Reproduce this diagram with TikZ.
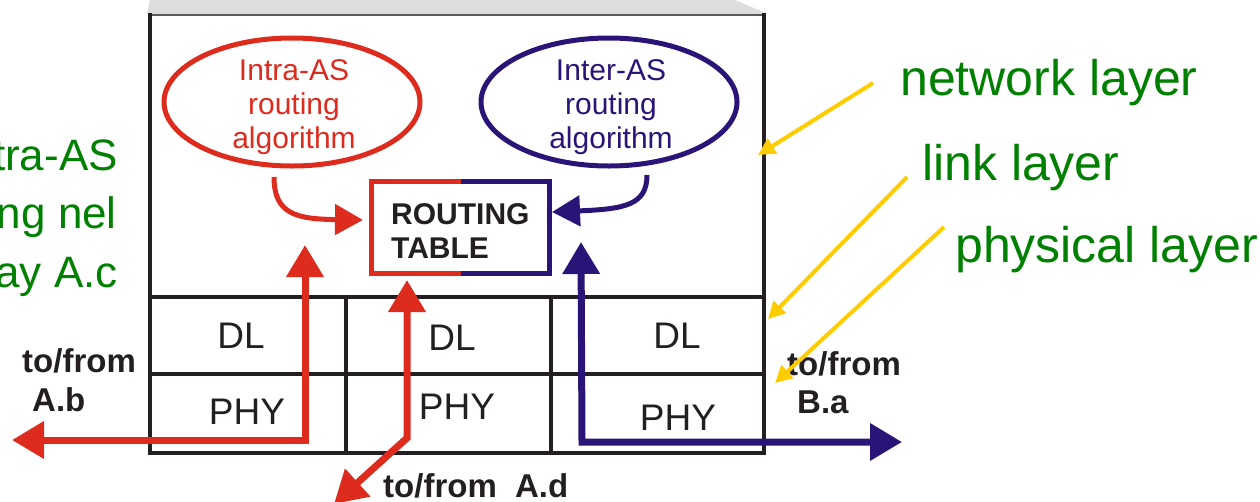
\documentclass[tikz,border=0pt]{standalone}
\usepackage{fontspec}
\setmainfont{Liberation Sans}
\usetikzlibrary{arrows.meta,shapes.geometric}
\definecolor{rtred}{RGB}{221,43,29}
\definecolor{rtblue}{RGB}{43,20,120}
\definecolor{lgreen}{RGB}{0,128,0}
\definecolor{tipyellow}{RGB}{255,204,0}
\definecolor{frameblack}{RGB}{35,31,32}
\definecolor{shadegray}{RGB}{221,221,221}
\begin{document}
\begin{tikzpicture}[x=1pt,y=-1pt,
  algo/.style={ellipse, draw, line width=5pt, minimum width=256pt, minimum height=128pt, inner sep=0pt},
  algotext/.style={align=center, inner sep=0pt, font=\fontsize{30}{34}\selectfont},
  cell/.style={inner sep=0pt, font=\fontsize{37}{40}\selectfont, text=frameblack},
  port/.style={inner sep=0pt, anchor=base west, font=\fontsize{33}{36}\selectfont\bfseries, text=frameblack},
  layerlbl/.style={inner sep=0pt, anchor=base west, text=lgreen, font=\fontsize{50}{56}\selectfont},
  sidelbl/.style={inner sep=0pt, anchor=base east, text=lgreen, font=\fontsize{44}{50}\selectfont},
  pipe/.style={line width=7pt, line join=miter},
  pointer/.style={draw=tipyellow, line width=4pt, -{Triangle[width=17pt,length=17pt]}},
  feed/.style={line width=5pt, -{Triangle[width=30pt,length=28pt]}},
  grid/.style={draw=frameblack, line width=4pt}]
\useasboundingbox (0,0) rectangle (1260,501);
\begin{scope}
\clip (0,0) rectangle (1260,501);

% shaded top face of the router box
\fill[shadegray] (147,14) -- (150,0) -- (735,0) -- (768,14) -- cycle;

% router box and layer grid
\draw[draw=gray!70!black, line width=2pt] (148,15) -- (766,15);
\draw[grid, line cap=rect] (150,15) -- (150,453) -- (764,453) -- (764,15);
\draw[grid] (152,297) -- (762,297);
\draw[grid] (152,374) -- (762,374);
\draw[grid] (346,297) -- (346,451);
\draw[grid] (551,297) -- (551,451);

% layer cells
\node[cell] (dl1) at (241,336) {DL};
\node[cell] (dl2) at (452,338) {DL};
\node[cell] (dl3) at (677,336) {DL};
\node[cell] (phy1) at (247,412) {PHY};
\node[cell] (phy2) at (457,407) {PHY};
\node[cell] (phy3) at (678,418) {PHY};

% routing algorithms
\node[algo, draw=rtred] (intra) at (292,102) {};
\node[algotext, text=rtred] (intratext) at (294,107) {Intra-AS\\routing\\algorithm};
\node[algo, draw=rtblue] (inter) at (609,102) {};
\node[algotext, text=rtblue] (intertext) at (611,107) {Inter-AS\\routing\\algorithm};

% routing table, half fed by each algorithm
\node[minimum width=177pt, minimum height=91pt, inner sep=0pt] (rt) at (460.5,227.5) {};
\draw[rtred, line width=5pt, line join=miter] (rt.north) -- (rt.north west) -- (rt.south west) -- (rt.south);
\draw[rtblue, line width=5pt, line join=miter] (rt.north) -- (rt.north east) -- (rt.south east) -- (rt.south);
\node[align=left, inner sep=0pt, anchor=west, font=\fontsize{30}{34}\selectfont\bfseries, text=frameblack] (rttext) at (391,231) {ROUTING\\TABLE};

% algorithm outputs into the table
\coordinate (intraout) at (274,177);
\coordinate (intrain) at (363,220);
\coordinate (interout) at (647,175);
\coordinate (interin) at (552,212);
\draw[feed, rtred] (intraout) .. controls (274,214) and (296,219) .. (intrain);
\draw[feed, rtblue] (interout) .. controls (647,205) and (625,209) .. (interin);

% interfaces towards neighbouring routers
\coordinate (abup) at (305,245);
\coordinate (abbend) at (305,440);
\coordinate (abend) at (12,440);
\draw[pipe, rtred, {Triangle[width=36pt,length=32pt]}-{Triangle[width=36pt,length=32pt]}] (abup) -- (abbend) -- (abend);
\coordinate (adup) at (407,280);
\coordinate (adbend) at (407,438);
\coordinate (adend) at (334,504);
\draw[pipe, rtred, {Triangle[width=36pt,length=32pt]}-{Triangle[width=36pt,length=32pt]}] (adup) -- (adbend) -- (adend);
\coordinate (baup) at (581,242);
\coordinate (babend) at (582,442);
\coordinate (baend) at (902,442);
\draw[pipe, rtblue, {Triangle[width=36pt,length=32pt]}-{Triangle[width=36pt,length=32pt]}] (baup) -- (babend) -- (baend);

% port labels
\node[port] (ab1) at (22,372) {to/from};
\node[port] (ab2) at (32,411) {A.b};
\node[port] (ba1) at (787,375) {to/from};
\node[port] (ba2) at (797,413) {B.a};
\node[port] (ad) at (383,497) {to/from\ \ A.d};

% layer names
\node[layerlbl] (netl) at (900,95) {network layer};
\node[layerlbl] (linkl) at (922,180) {link layer};
\node[layerlbl] (phyl) at (955,262) {physical layer};
\coordinate (netfrom) at (873,83);
\coordinate (netto) at (758,155);
\coordinate (linkfrom) at (907,177);
\coordinate (linkto) at (768,319);
\coordinate (phyfrom) at (944,227);
\coordinate (phyto) at (775,383);
\draw[pointer] (netfrom) -- (netto);
\draw[pointer] (linkfrom) -- (linkto);
\draw[pointer] (phyfrom) -- (phyto);

% side caption, running off the left edge
\node[sidelbl] (side1) at (118,170) {Intra-AS};
\node[sidelbl] (side2) at (117,228) {routing nel};
\node[sidelbl] (side3) at (118,287) {gateway A.c};
\end{scope}
\end{tikzpicture}
\end{document}
